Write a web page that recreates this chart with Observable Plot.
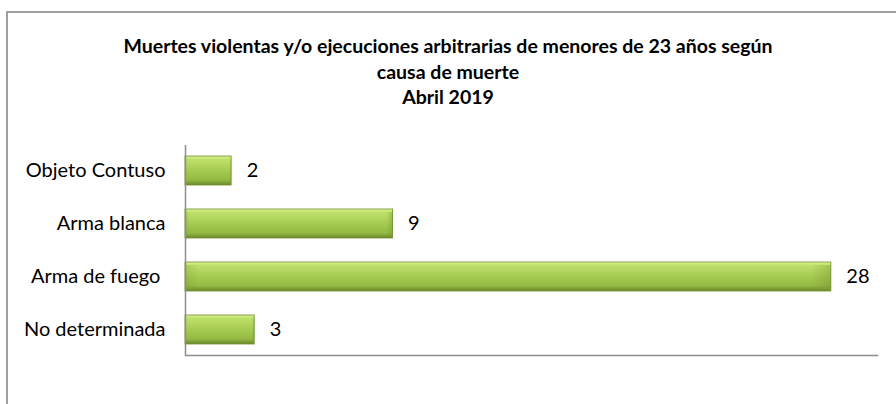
<!DOCTYPE html>
<html><head><meta charset="utf-8">
<script src="https://cdn.jsdelivr.net/npm/d3@7"></script>
<script src="https://cdn.jsdelivr.net/npm/@observablehq/plot@0.6"></script>
<style>
body{margin:0;background:#fff;width:896px;height:404px;overflow:hidden;position:relative;font-family:Lato,sans-serif}
#frame{position:absolute;left:6px;top:11px;width:900px;height:400px;border-left:2px solid #a0a0a0;border-top:2px solid #a0a0a0}
#title{position:absolute;left:0;top:33px;width:896px;text-align:center;font-weight:bold;font-size:19.5px;line-height:25.5px;color:#000}
#chart{position:absolute;left:0;top:125px}
#chart svg text{white-space:pre}
</style></head><body>
<div id="frame"></div>
<div id="title"></div>
<div id="chart"></div>
<script>
const categories = ["Objeto Contuso", "Arma blanca", "Arma de fuego ", "No determinada"];
const values = [2, 9, 28, 3];
const titleLines = ["Muertes violentas y/o ejecuciones arbitrarias de menores de 23 años según", "causa de muerte", "Abril 2019"];
const xDomain = [0, 30];

document.getElementById("title").innerHTML = titleLines.map(t => `<div>${t}</div>`).join("");

const data = categories.map((c, i) => ({cause: c, n: values[i]}));

const chart = Plot.plot({
  width: 896,
  height: 279,
  marginTop: 20,
  marginBottom: 49,
  marginLeft: 185,
  marginRight: 19,
  x: {domain: xDomain, axis: null},
  y: {domain: categories, paddingInner: 0.45, paddingOuter: 0.19, label: null},
  style: {fontFamily: "Lato, sans-serif", fontSize: "20px", color: "#000", background: "transparent", overflow: "visible"},
  marks: [
    Plot.barX(data, {x: "n", y: "cause", fill: "url(#barGrad)", stroke: "#6f8e2e", strokeWidth: 0.8, style: "filter:url(#barShadow)"}),
    Plot.barX(data, {x: "n", y: "cause", fill: "url(#bevelGrad)", insetTop: 3, insetBottom: 3}),
    Plot.text(data, {x: "n", y: "cause", text: d => String(d.n), textAnchor: "start", dx: 15, fontSize: 20, fill: "#000"}),
    Plot.axisY({tickSize: 0, tickPadding: 20, fontSize: 20, label: null, fill: "#000"}),
    Plot.ruleX([0], {stroke: "#8c8c8c", strokeWidth: 1.5}),
    Plot.frame({anchor: "bottom", stroke: "#8c8c8c", strokeWidth: 1.5})
  ]
});

d3.select(chart).insert("defs", ":first-child").html(`
  <linearGradient id="barGrad" x1="0" y1="0" x2="0" y2="1">
    <stop offset="0" stop-color="#dcf292"/>
    <stop offset="0.12" stop-color="#bde06a"/>
    <stop offset="0.5" stop-color="#a6cb51"/>
    <stop offset="0.82" stop-color="#95ba43"/>
    <stop offset="1" stop-color="#6a882a"/>
  </linearGradient>
  <linearGradient id="bevelGrad" x1="0" y1="0" x2="1" y2="0">
    <stop offset="0" stop-color="#6c8a2b" stop-opacity="0.25"/>
    <stop offset="0.02" stop-color="#6c8a2b" stop-opacity="0"/>
    <stop offset="0.97" stop-color="#6c8a2b" stop-opacity="0"/>
    <stop offset="1" stop-color="#6c8a2b" stop-opacity="0.35"/>
  </linearGradient>
  <filter id="barShadow" x="-10%" y="-30%" width="130%" height="190%">
    <feDropShadow dx="1" dy="3" stdDeviation="2" flood-color="#000" flood-opacity="0.25"/>
  </filter>
`);

document.getElementById("chart").appendChild(chart);
</script>
</body></html>
